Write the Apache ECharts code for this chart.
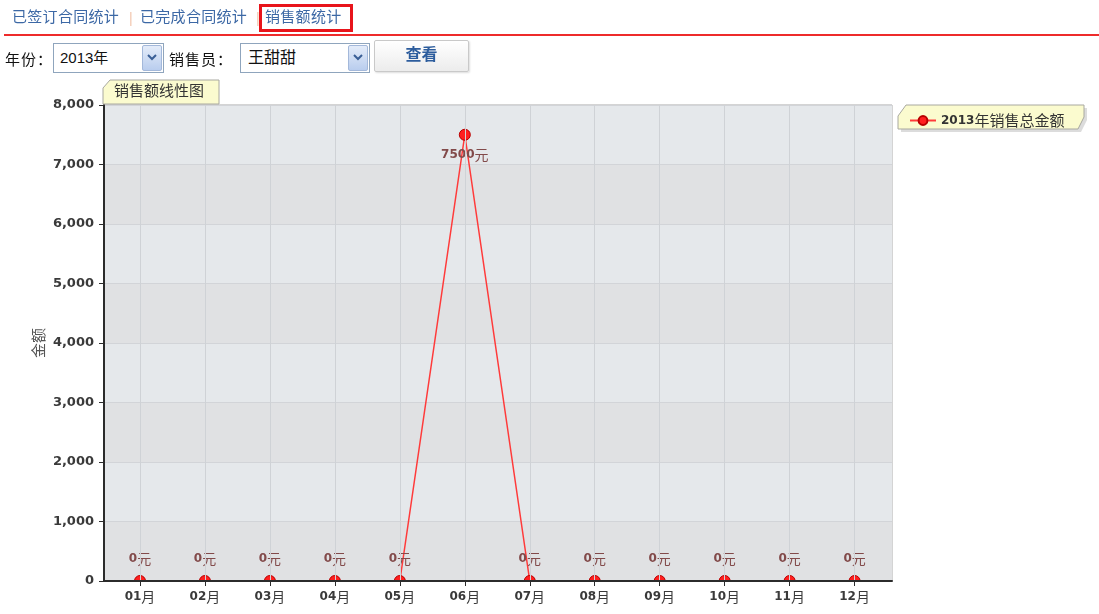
<!DOCTYPE html>
<html>
<head>
<meta charset="utf-8">
<title>销售额统计</title>
<script src="https://cdn.jsdelivr.net/npm/echarts@6/dist/echarts.min.js"></script>
<style>
  html, body { margin: 0; padding: 0; background: #fff; width: 1099px; height: 614px; overflow: hidden;
    font-family: "Liberation Sans", Arial, "Noto Sans CJK SC", sans-serif; }
  #chart { position: absolute; left: 0; top: 0; width: 1099px; height: 614px; }
  .ui { position: absolute; z-index: 2; white-space: nowrap; }
  .tab { top: 7px; font-size: 15px; line-height: 20px; color: #3c68a5; letter-spacing: 0.3px; }
  .sep { top: 8px; font-size: 14px; line-height: 20px; color: #f2c6ad; }
  #active { left: 259px; top: 4px; width: 94px; height: 28px; border: 3px solid #e8141b; box-sizing: border-box; }
  #rule { left: 4px; top: 34px; width: 1095px; height: 2px; background: #ee2b2b; }
  .lbl { top: 50px; font-size: 15px; line-height: 20px; color: #111; letter-spacing: 1px; }
  .sel { top: 43px; height: 30px; border: 1px solid #8fa5bd; background: #fff; box-sizing: border-box;
    font-size: 15px; line-height: 28px; padding-left: 6px; color: #111; }
  .arrow { position: absolute; right: 1px; top: 1px; width: 20px; height: 26px; box-sizing: border-box;
    background: linear-gradient(#e4ecf9, #b9cdee); border: 1px solid #a3b8da; border-radius: 2px; }
  .arrow svg { position: absolute; left: 4px; top: 8px; }
  #btn { left: 374px; top: 40px; width: 95px; height: 32px; box-sizing: border-box; border: 1px solid #c9c9c9;
    border-radius: 2px; background: linear-gradient(#ffffff, #ececec); box-shadow: 1px 1px 2px #ddd;
    font-size: 16px; font-weight: bold; color: #2d5d9d; text-align: center; line-height: 28px; }
</style>
</head>
<body>
<div id="chart"></div>

<div class="ui tab" style="left:12px">已签订合同统计</div>
<div class="ui sep" style="left:129px">|</div>
<div class="ui tab" style="left:140px">已完成合同统计</div>
<div class="ui sep" style="left:256px">|</div>
<div class="ui tab" style="left:265px">销售额统计</div>
<div class="ui" id="active"></div>
<div class="ui" id="rule"></div>

<div class="ui lbl" style="left:5px">年份：</div>
<div class="ui sel" style="left:53px;width:111px">2013年
  <div class="arrow"><svg width="10" height="8"><polyline points="1,1 5,5 9,1" fill="none" stroke="#3a5f96" stroke-width="2"/></svg></div>
</div>
<div class="ui lbl" style="left:169px">销售员：</div>
<div class="ui sel" style="left:240px;width:130px;font-size:16px;padding-left:7px">王甜甜
  <div class="arrow"><svg width="10" height="8"><polyline points="1,1 5,5 9,1" fill="none" stroke="#3a5f96" stroke-width="2"/></svg></div>
</div>
<div class="ui" id="btn">查看</div>

<script>
// 2013 monthly sales for 王甜甜
const months = ['01月', '02月', '03月', '04月', '05月', '06月', '07月', '08月', '09月', '10月', '11月', '12月'];
const sales = [0, 0, 0, 0, 0, 7500, 0, 0, 0, 0, 0, 0];
const yTicks = [0, 1000, 2000, 3000, 4000, 5000, 6000, 7000, 8000];
const seriesName = '2013年销售总金额';
const chartTitle = '销售额线性图';
const yName = '金额';

const chart = echarts.init(document.getElementById('chart'), null, { renderer: 'canvas' });

const G = { left: 104, top: 105, width: 788, height: 476 };
const yMax = yTicks[yTicks.length - 1];
const xPos = months.map((_, i) => i + 1);

const NUM_FONT = '"DejaVu Sans", Verdana, sans-serif';
const CJK_FONT = '"Noto Sans CJK SC", sans-serif';

const labelRich = {
  n: { fontFamily: NUM_FONT, fontWeight: 'bold', fontSize: 12, color: '#824a4a' },
  u: { fontFamily: CJK_FONT, fontSize: 14, color: '#824a4a' }
};

// peak labels sit under their marker, the rest above
const seriesData = sales.map((v, i) => {
  const nearTop = v > yMax * 0.85;
  return {
    value: [xPos[i], v],
    label: { position: nearTop ? 'bottom' : 'top', distance: nearTop ? 7 : 9 }
  };
});

chart.setOption({
  animation: false,
  grid: Object.assign({ show: true, borderColor: '#a9a9a9', borderWidth: 1, backgroundColor: 'transparent', containLabel: false }, G),
  xAxis: {
    type: 'value',
    min: 0.446,
    max: 12.576,
    zlevel: 1,
    z: 10,
    axisLine: { show: true, onZero: false, lineStyle: { color: '#2b2b2b', width: 2 } },
    axisTick: { show: true, length: 5, customValues: xPos, lineStyle: { color: '#2b2b2b' } },
    axisLabel: {
      customValues: xPos,
      margin: 9,
      formatter: v => {
        const m = months[Math.round(v) - 1] || '';
        return '{n|' + m.slice(0, 2) + '}{u|' + m.slice(2) + '}';
      },
      rich: {
        n: { fontFamily: NUM_FONT, fontWeight: 'bold', fontSize: 12, color: '#3a3a3a' },
        u: { fontFamily: CJK_FONT, fontSize: 14, color: '#3a3a3a' }
      }
    },
    splitLine: { show: true, lineStyle: { color: '#cfd2d6', width: 1 } }
  },
  yAxis: {
    type: 'value',
    min: 0,
    max: yMax,
    interval: 1000,
    name: yName,
    nameLocation: 'middle',
    nameGap: 58,
    nameMoveOverlap: false,
    nameTextStyle: { fontFamily: CJK_FONT, fontSize: 15, color: '#555' },
    axisLine: { show: true, lineStyle: { color: '#2b2b2b', width: 2 } },
    axisTick: { show: true, length: 5, lineStyle: { color: '#2b2b2b' } },
    axisLabel: {
      margin: 10,
      fontFamily: NUM_FONT,
      fontWeight: 'bold',
      fontSize: 13,
      color: '#3a3a3a',
      formatter: v => v.toLocaleString('en-US')
    },
    splitLine: { show: true, lineStyle: { color: '#d2d4d8', width: 1 } },
    splitArea: { show: true, areaStyle: { color: ['#e0e1e3', '#e5e8eb'] } }
  },
  legend: {
    show: true,
    left: 904,
    top: 108,
    itemWidth: 26,
    itemHeight: 11,
    itemGap: 6,
    formatter: name => '{n|' + name.slice(0, 4) + '}{u|' + name.slice(4) + '}',
    textStyle: {
      rich: {
        n: { fontFamily: NUM_FONT, fontWeight: 'bold', fontSize: 12, color: '#333' },
        u: { fontFamily: CJK_FONT, fontSize: 15, color: '#333' }
      }
    },
    data: [seriesName]
  },
  graphic: [
    // title tab above the plot
    {
      type: 'polygon', z: 20,
      shape: { points: [[110, 80], [219, 80], [219, 104], [103, 104], [103, 88]] },
      style: { fill: '#fbfbcf', stroke: '#a8a8a0', lineWidth: 1 }
    },
    {
      type: 'text', z: 21, left: 114, top: 83,
      style: { text: chartTitle, font: '15px "Noto Sans CJK SC"', fill: '#333' }
    },
    // legend plate with its shadow
    {
      type: 'polygon', z: 0,
      shape: { points: [[909, 108], [1087, 108], [1087, 120], [1081, 132], [901, 132], [901, 119]] },
      style: { fill: '#dcdcdc', stroke: 'none' }
    },
    {
      type: 'polygon', z: 1,
      shape: { points: [[906, 105], [1084, 105], [1084, 117], [1078, 129], [898, 129], [898, 116]] },
      style: { fill: '#fbfbcf', stroke: '#a8a8a0', lineWidth: 1 }
    },
    // white strip under the x axis line so markers on the baseline show as half discs
    {
      type: 'rect', zlevel: 1, z: 5,
      shape: { x: G.left - 1, y: G.top + G.height + 1, width: G.width + 3, height: 8 },
      style: { fill: '#fff' }
    }
  ],
  series: [{
    name: seriesName,
    type: 'line',
    z: 3,
    data: seriesData,
    clip: false,
    symbol: 'circle',
    symbolSize: 11,
    lineStyle: { color: '#ff3a3a', width: 1.5 },
    itemStyle: { color: '#ff1f1f', borderColor: '#b80000', borderWidth: 1 },
    label: {
      show: true,
      formatter: p => '{n|' + p.value[1] + '}{u|元}',
      rich: labelRich
    },
    emphasis: { disabled: true }
  }]
});
</script>
</body>
</html>
